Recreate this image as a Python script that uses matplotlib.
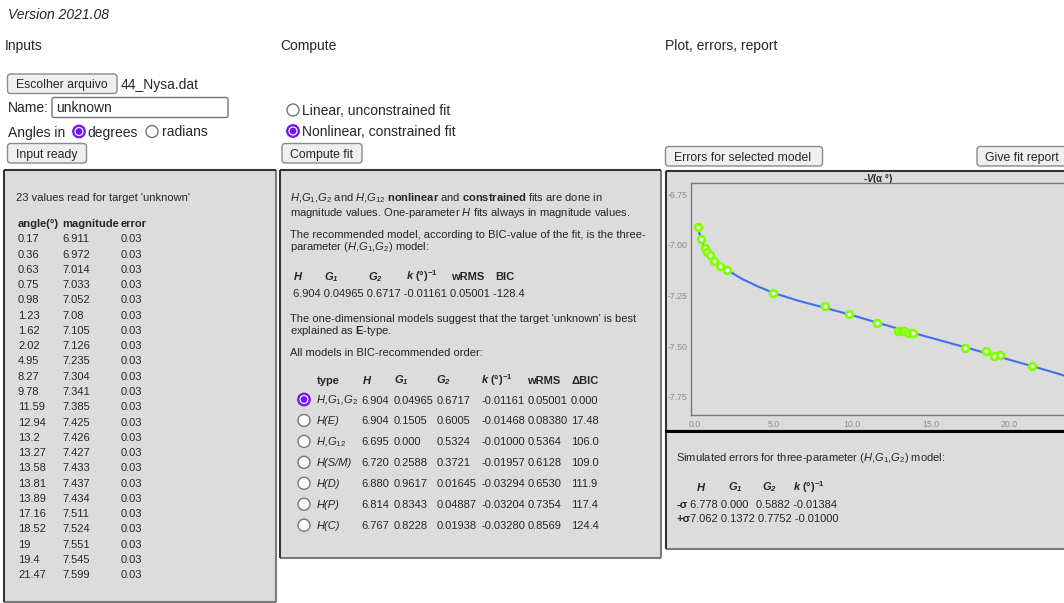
import matplotlib
matplotlib.use("Agg")
import matplotlib.pyplot as plt
from matplotlib.patches import Rectangle, FancyBboxPatch, Circle

# data
angle_txt = ["0.17", "0.36", "0.63", "0.75", "0.98", "1.23", "1.62", "2.02", "4.95", "8.27", "9.78",
             "11.59", "12.94", "13.2", "13.27", "13.58", "13.81", "13.89", "17.16", "18.52", "19", "19.4", "21.47"]
mag_txt = ["6.911", "6.972", "7.014", "7.033", "7.052", "7.08", "7.105", "7.126", "7.235", "7.304", "7.341",
           "7.385", "7.425", "7.426", "7.427", "7.433", "7.437", "7.434", "7.511", "7.524", "7.551", "7.545", "7.599"]
err_txt = ["0.03"] * 23

# fitted curve
curve_x = [0.17, 0.4, 0.7, 1.0, 1.5, 2.0, 3.0, 4.0, 5.0, 6.5, 8.0, 10.0, 12.0, 14.0, 16.0, 18.0, 20.0, 22.0, 24.0]
curve_y = [-6.911, -6.975, -7.02, -7.052, -7.095, -7.122, -7.168, -7.205, -7.237, -7.274, -7.305, -7.347,
           -7.393, -7.437, -7.48, -7.523, -7.567, -7.611, -7.657]

best_fit = ["6.904", "0.04965", "0.6717", "-0.01161", "0.05001", "-128.4"]

HGG = r"$H$,$G_1$,$G_2$"
model_types = [HGG, "H(E)", r"$H$,$G_{12}$", "H(S/M)", "H(D)", "H(P)", "H(C)"]
model_H = ["6.904", "6.904", "6.695", "6.720", "6.880", "6.814", "6.767"]
model_G1 = ["0.04965", "0.1505", "0.000", "0.2588", "0.9617", "0.8343", "0.8228"]
model_G2 = ["0.6717", "0.6005", "0.5324", "0.3721", "0.01645", "0.04887", "0.01938"]
model_k = ["-0.01161", "-0.01468", "-0.01000", "-0.01957", "-0.03294", "-0.03204", "-0.03280"]
model_wrms = ["0.05001", "0.08380", "0.5364", "0.6128", "0.6530", "0.7354", "0.8569"]
model_dbic = ["0.000", "17.48", "106.0", "109.0", "111.9", "117.4", "124.4"]

err_minus = ["6.778", "0.000", "0.5882", "-0.01384"]
err_plus = ["7.062", "0.1372", "0.7752", "-0.01000"]

x_ticks = [0, 5, 10, 15, 20]
y_ticks = [-6.75, -7.00, -7.25, -7.50, -7.75]

plt.rcParams["font.family"] = ["Liberation Sans", "DejaVu Sans"]
plt.rcParams["mathtext.fontset"] = "custom"
plt.rcParams["mathtext.rm"] = "Liberation Sans"
plt.rcParams["mathtext.it"] = "Liberation Sans:italic"
plt.rcParams["mathtext.bf"] = "Liberation Sans:bold"
plt.rcParams["mathtext.bfit"] = "Liberation Sans:italic:bold"

TXT = "#262626"
PANEL = "#dcdcdc"
PURPLE = "#7512f0"

fig = plt.figure(figsize=(10.64, 6.03), dpi=100)
bg = fig.add_axes([0, 0, 1, 1])
bg.set_xlim(0, 1064)
bg.set_ylim(603, 0)
bg.axis("off")


def txt(x, y, s, size=8, **kw):
    # y is the visual middle of the capitals, convert to baseline
    px = size * 100 / 72
    bg.text(x, y + 0.36 * px, s, fontsize=size, va="baseline", color=TXT, **kw)


def button(x0, y0, x1, y1, label):
    bg.add_patch(FancyBboxPatch((x0, y0), x1 - x0, y1 - y0, boxstyle="round,pad=0,rounding_size=3",
                                fc="#efefef", ec="#8a8a8a", lw=1))
    txt(x0 + 8, (y0 + y1) / 2, label, size=8.8)


def radio(x, y, checked):
    if checked:
        bg.add_patch(Circle((x, y), 6.3, fc=PURPLE, ec=PURPLE, lw=0.8))
        bg.add_patch(Circle((x, y), 4.6, fc="white", ec="none"))
        bg.add_patch(Circle((x, y), 3.4, fc=PURPLE, ec="none"))
    else:
        bg.add_patch(Circle((x, y), 6.0, fc="white", ec="#767676", lw=1))


def panel(x0, y0, x1, y1):
    bg.add_patch(Rectangle((x0, y0), x1 - x0, y1 - y0, fc=PANEL, ec="none"))
    bg.plot([x0, x1], [y1, y1], color="#7a7a7a", lw=1.5, solid_capstyle="butt")
    bg.plot([x1, x1], [y0, y1], color="#7a7a7a", lw=1.5, solid_capstyle="butt")
    bg.plot([x0, x1], [y0, y0], color="#333333", lw=1.5, solid_capstyle="butt")
    bg.plot([x0, x0], [y0, y1], color="#333333", lw=1.5, solid_capstyle="butt")


# header area
txt(8, 14, "Version 2021.08", size=10, style="italic")
txt(5, 45, "Inputs", size=10)
txt(280, 45, "Compute", size=10)
txt(665, 45, "Plot, errors, report", size=10)

button(7.5, 74, 117, 93.5, "Escolher arquivo")
txt(121, 84, "44_Nysa.dat", size=10)
txt(8, 107, "Name:", size=10)
bg.add_patch(FancyBboxPatch((52, 97.5), 176, 20, boxstyle="round,pad=0,rounding_size=2",
                            fc="white", ec="#767676", lw=1))
txt(56, 107, "unknown", size=10)
txt(8, 131.5, "Angles in", size=10)
radio(79, 131.5, True)
txt(87.5, 131.5, "degrees", size=10)
radio(152, 131.5, False)
txt(162, 131.5, "radians", size=10)
button(7.5, 143.5, 86.5, 163, "Input ready")

radio(293, 110, False)
txt(302, 110, "Linear, unconstrained fit", size=10)
radio(293, 131, True)
txt(302, 131, "Nonlinear, constrained fit", size=10)
button(282, 143.5, 362, 163, "Compute fit")

button(665.5, 146.5, 822.5, 166, "Errors for selected model")
button(977, 146.5, 1072, 166, "Give fit report")

# left panel: input data
panel(4, 169.5, 275.5, 602)
txt(16, 197, "23 values read for target 'unknown'")
txt(18, 223, "angle(°)", weight="bold")
txt(62, 223, "magnitude", weight="bold")
txt(121, 223, "error", weight="bold")
for i in range(len(angle_txt)):
    y = 238.3 + i * 15.27
    txt(18, y, angle_txt[i])
    txt(62, y, mag_txt[i])
    txt(121, y, err_txt[i])

# middle panel: fit results
panel(279.5, 169.5, 660.5, 557.5)
txt(290, 197, HGG + r" and $H$,$G_{12}$ $\mathbf{nonlinear}$ and $\mathbf{constrained}$ fits are done in")
txt(290, 212.5, r"magnitude values. One-parameter $H$ fits always in magnitude values.")
txt(290, 233.5, "The recommended model, according to BIC-value of the fit, is the three-")
txt(290, 246, "parameter (" + HGG + ") model:")

KHEAD = r"$\mathbfit{k}$ (°)$^{\mathbf{-1}}$"
head_x = [293, 324, 368, 405.5, 451.5, 495.5]
head_lbl = [r"$\mathbfit{H}$", r"$\mathbfit{G_1}$", r"$\mathbfit{G_2}$", KHEAD, "wRMS", "BIC"]
for x, s in zip(head_x, head_lbl):
    txt(x, 276, s, weight="bold")
txt(293, 293.3, " ".join(best_fit))

txt(290, 318, "The one-dimensional models suggest that the target 'unknown' is best")
txt(290, 330, r"explained as $\mathbf{E}$-type.")
txt(290, 352.5, "All models in BIC-recommended order:")

col_x = [316.5, 361.5, 393.5, 436.5, 481, 527.5, 571]
tab_head = ["type", r"$\mathbfit{H}$", r"$\mathbfit{G_1}$", r"$\mathbfit{G_2}$", KHEAD, "wRMS", "ΔBIC"]
for x, s in zip(col_x, tab_head):
    txt(x, 379.5, s, weight="bold")
for i in range(len(model_types)):
    y = 399.5 + i * 20.95
    radio(304, y, i == 0)
    txt(col_x[0], y, model_types[i], style="italic")
    row = [model_H[i], model_G1[i], model_G2[i], model_k[i], model_wrms[i], model_dbic[i]]
    for x, s in zip(col_x[1:], row):
        txt(x, y, s)

# right: plot panel and error panel
panel(665.5, 170.5, 1070, 430.5)
panel(665.5, 430.5, 1070, 549)
bg.plot([665.5, 1070], [430.5, 430.5], color="black", lw=2.2)

bg.text(878, 177.7 + 4, r"-$\mathbfit{V}$(α °)", fontsize=7, weight="bold", ha="center",
        va="baseline", color=TXT)

txt(676, 456.7, "Simulated errors for three-parameter (" + HGG + ") model:")
err_x = [696, 728, 761.5, 793]
err_head = [r"$\mathbfit{H}$", r"$\mathbfit{G_1}$", r"$\mathbfit{G_2}$", KHEAD]
for x, s in zip(err_x, err_head):
    txt(x, 486.7, s, weight="bold")
txt(676.5, 504, "-σ", weight="bold")
txt(689.5, 504, " ".join(err_minus[:2]))
txt(756.5, 504, " ".join(err_minus[2:]))
txt(676.5, 518.3, "+σ", weight="bold")
txt(689.5, 518.3, " ".join(err_plus))

# the phase curve plot itself
ax_left, ax_right, ax_top, ax_bot = 690.7, 1095, 183, 415
ax = fig.add_axes([ax_left / 1064, 1 - ax_bot / 603, (ax_right - ax_left) / 1064, (ax_bot - ax_top) / 603])
ax.set_facecolor(PANEL)
ax.plot(curve_x, curve_y, color="#3f6ff0", lw=1.5, zorder=2)
ax.plot([float(a) for a in angle_txt], [-float(m) for m in mag_txt], "o", ms=4.8, mfc="white",
        mec="#80ff00", mew=2.0, zorder=3)
ax.set_xlim(-0.27, (ax_right - 695) / 15.72)
ax.set_ylim(-7.84, -6.694)
ax.set_xticks(x_ticks)
ax.set_xticklabels(["%.1f" % t for t in x_ticks])
ax.set_yticks(y_ticks)
ax.set_yticklabels(["%.2f" % t for t in y_ticks])
ax.tick_params(length=0, labelsize=6.3, labelcolor="#8a8a8a")
ax.tick_params(axis="y", pad=2.2)
ax.tick_params(axis="x", pad=3.5)
for sp in ax.spines.values():
    sp.set_color("#777777")
    sp.set_linewidth(1.0)

fig.savefig("out.png", dpi=100, facecolor="white")
